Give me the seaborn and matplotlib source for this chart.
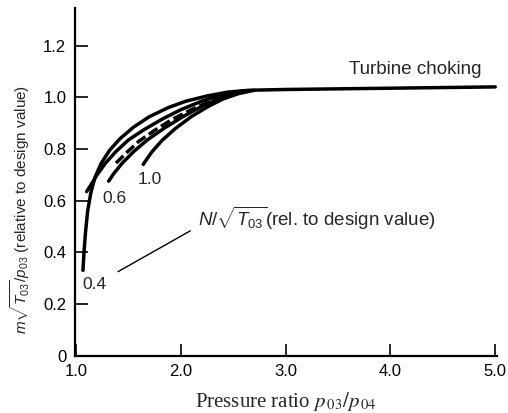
import matplotlib
matplotlib.use("Agg")
import matplotlib.pyplot as plt
import seaborn as sns
import pandas as pd

# ---- data ----
x_04 = [1.065, 1.075, 1.09, 1.11, 1.14, 1.18, 1.24, 1.32, 1.42, 1.55, 1.70, 1.88, 2.05, 2.25, 2.45, 2.65, 3.0, 4.0, 5.0]
y_04 = [0.33, 0.40, 0.48, 0.56, 0.63, 0.69, 0.745, 0.795, 0.84, 0.885, 0.925, 0.96, 0.985, 1.005, 1.02, 1.027, 1.03, 1.035, 1.04]

x_05 = [1.10, 1.14, 1.20, 1.28, 1.38, 1.50, 1.65, 1.82, 2.00, 2.20, 2.40, 2.60]
y_05 = [0.635, 0.66, 0.70, 0.745, 0.79, 0.835, 0.875, 0.915, 0.952, 0.985, 1.01, 1.025]

x_08 = [1.38, 1.48, 1.60, 1.75, 1.92, 2.10, 2.28, 2.45, 2.60]
y_08 = [0.745, 0.785, 0.83, 0.872, 0.915, 0.952, 0.985, 1.008, 1.024]

x_06 = [1.31, 1.36, 1.44, 1.55, 1.68, 1.84, 2.02, 2.20, 2.38, 2.58]
y_06 = [0.675, 0.705, 0.745, 0.79, 0.835, 0.88, 0.925, 0.965, 0.997, 1.022]

x_10 = [1.64, 1.72, 1.82, 1.95, 2.10, 2.25, 2.40, 2.55, 2.70]
y_10 = [0.74, 0.787, 0.833, 0.88, 0.925, 0.962, 0.993, 1.014, 1.027]

curve_labels = ["0.4", "0.6", "1.0"]
x_ticks = [1.0, 2.0, 3.0, 4.0, 5.0]
x_tick_labels = ["1.0", "2.0", "3.0", "4.0", "5.0"]
y_ticks = [0, 0.2, 0.4, 0.6, 0.8, 1.0, 1.2]
y_tick_labels = ["0", "0.2", "0.4", "0.6", "0.8", "1.0", "1.2"]

sns.set_style("ticks")
plt.rcParams['font.family'] = ['Liberation Sans', 'DejaVu Sans']
plt.rcParams['mathtext.fontset'] = 'custom'
plt.rcParams['mathtext.rm'] = 'Liberation Sans'
plt.rcParams['mathtext.it'] = 'Liberation Sans:italic'

fig = plt.figure(figsize=(5.08, 4.13), dpi=100)
ax = fig.add_axes([0.147, 0.139, 0.832, 0.842])

lw = 2.5
for xs, ys, ls in [(x_04, y_04, '-'), (x_05, y_05, '-'), (x_08, y_08, (0, (3, 1.2))),
                   (x_06, y_06, '-'), (x_10, y_10, '-')]:
    df = pd.DataFrame({"x": xs, "y": ys})
    sns.lineplot(data=df, x="x", y="y", ax=ax, color='black', linewidth=lw,
                 linestyle=ls, sort=False, estimator=None)

ax.set_xlim(0.986, 5.02)
ax.set_ylim(0, 1.346)
ax.set_xticks(x_ticks)
ax.set_xticklabels(x_tick_labels)
ax.set_yticks(y_ticks)
ax.set_yticklabels(y_tick_labels)
ax.tick_params(direction='in', length=9, width=1.2, labelsize=12, colors='black')
ax.tick_params(axis='x', pad=6)
ax.tick_params(axis='y', pad=6)
for s in ['top', 'right']:
    ax.spines[s].set_visible(False)
for s in ['left', 'bottom']:
    ax.spines[s].set_linewidth(1.6)
    ax.spines[s].set_color('black')

ax.set_xlabel(r"Pressure ratio $p_{\,03}/p_{\,04}$", family='Liberation Serif',
              fontsize=15, math_fontfamily='stix')
ax.set_ylabel(r"$m\sqrt{T_{03}}/p_{03}$ (relative to design value)", fontsize=11)
ax.xaxis.set_label_coords(0.50, -0.10)
ax.yaxis.set_label_coords(-0.10, 0.42)

ax.text(4.24, 1.107, "Turbine choking", fontsize=13.5, ha='center', va='center')
ax.text(1.17, 0.275, curve_labels[0], fontsize=12.5, ha='center', va='center')
ax.text(1.37, 0.607, curve_labels[1], fontsize=12.5, ha='center', va='center')
ax.text(1.70, 0.68, curve_labels[2], fontsize=12.5, ha='center', va='center')
ax.text(2.16, 0.53, r"$N/\sqrt{T_{03}}$(rel. to design value)", fontsize=13.5, ha='left', va='center')
ax.plot([1.40, 2.09], [0.325, 0.483], color='black', linewidth=1.0)

fig.savefig("out.png", dpi=100)
